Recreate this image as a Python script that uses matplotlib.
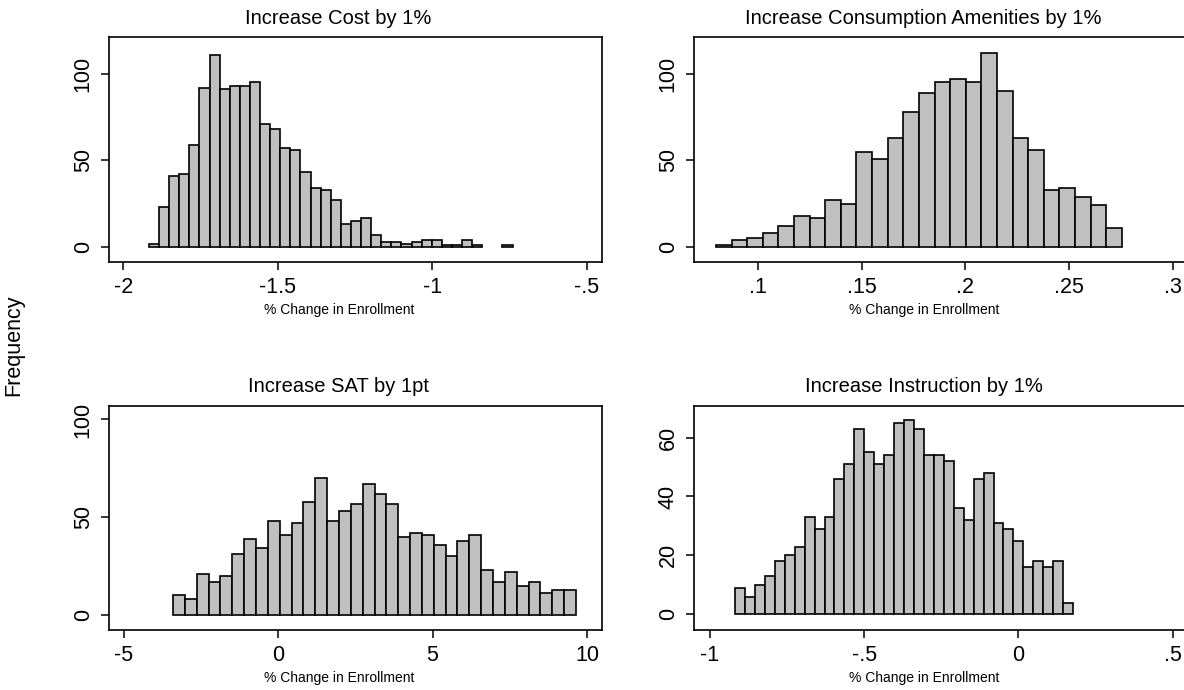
import numpy as np
import matplotlib.pyplot as plt

plt.rcParams['font.family'] = ['Liberation Sans', 'DejaVu Sans']

# histogram counts, with the first bin edge and bin width
cost_counts = [2, 23, 41, 42, 59, 92, 111, 91, 93, 93, 95, 71, 68, 57, 56, 43, 34, 33,
               27, 13, 15, 17, 7, 3, 3, 2, 3, 4, 4, 1, 1, 4, 1, 0, 0, 1]
cost_start, cost_width = -1.9166, 0.03266

amen_counts = [1, 4, 5, 8, 12, 18, 17, 27, 25, 55, 51, 63, 78, 89, 95, 97, 95, 112,
               90, 63, 56, 33, 34, 29, 24, 11]
amen_start, amen_width = 0.0797, 0.00753

sat_counts = [10, 8, 21, 17, 20, 31, 39, 34, 48, 41, 47, 58, 70, 48, 53, 57, 67, 62,
              57, 40, 42, 41, 36, 30, 38, 41, 23, 17, 22, 15, 17, 11, 13, 13]
sat_start, sat_width = -3.41, 0.384

inst_counts = [9, 6, 10, 13, 18, 20, 23, 33, 29, 33, 46, 51, 63, 55, 51, 54, 65, 66,
               63, 54, 54, 52, 36, 32, 46, 48, 31, 29, 25, 16, 18, 16, 18, 4]
inst_start, inst_width = -0.918, 0.0322

titles = ['Increase Cost by 1%', 'Increase Consumption Amenities by 1%',
          'Increase SAT by 1pt', 'Increase Instruction by 1%']
xticks = [[-2, -1.5, -1, -0.5], [0.1, 0.15, 0.2, 0.25, 0.3],
          [-5, 0, 5, 10], [-1, -0.5, 0, 0.5]]
xticklabels = [['-2', '-1.5', '-1', '-.5'], ['.1', '.15', '.2', '.25', '.3'],
               ['-5', '0', '5', '10'], ['-1', '-.5', '0', '.5']]
yticks = [[0, 50, 100], [0, 50, 100], [0, 50, 100], [0, 20, 40, 60]]
xlims = [(-2.046, -0.4515), (0.0691, 0.3069), (-5.487, 10.49), (-1.051, 0.546)]
ylims = [(-8.66, 121.2), (-8.66, 121.2), (-7.7, 106.9), (-5.3, 70.7)]

panels = [(cost_counts, cost_start, cost_width),
          (amen_counts, amen_start, amen_width),
          (sat_counts, sat_start, sat_width),
          (inst_counts, inst_start, inst_width)]

W, H = 1184, 690
fig = plt.figure(figsize=(W / 100, H / 100), dpi=100)

# axes boxes in pixels: left, top, right, bottom
boxes = [(109, 37, 602, 262), (694, 37, 1187, 262),
         (109, 406, 602, 630), (694, 406, 1187, 630)]

for i, (counts, start, width) in enumerate(panels):
    l, t, r, b = boxes[i]
    ax = fig.add_axes([l / W, (H - b) / H, (r - l) / W, (b - t) / H])
    counts = np.array(counts)
    lefts = start + width * np.arange(len(counts))
    keep = counts > 0  # empty bins draw nothing
    ax.bar(lefts[keep], counts[keep], width=width, align='edge',
           color='#c0c0c0', edgecolor='black', linewidth=1.2)
    ax.set_xlim(xlims[i])
    ax.set_ylim(ylims[i])
    ax.set_xticks(xticks[i])
    ax.set_xticklabels(xticklabels[i])
    ax.set_yticks(yticks[i])
    ax.set_yticklabels([str(v) for v in yticks[i]], rotation=90, va='center')
    ax.tick_params(direction='out', length=6, width=1.1, labelsize=15.5, pad=5)
    for s in ax.spines.values():
        s.set_linewidth(1.2)

    cx = (l + r) / 2
    fig.text((cx - 17) / W, (H - t + 19) / H, titles[i], ha='center', va='center',
             fontsize=14.5)
    fig.text((cx - 16) / W, (H - b - 48) / H, '% Change in Enrollment',
             ha='center', va='center', fontsize=10)

fig.text(14 / W, (H - 345) / H, 'Frequency', rotation=90, ha='center', va='center',
         fontsize=15.5)

fig.savefig('out.png', dpi=100)
